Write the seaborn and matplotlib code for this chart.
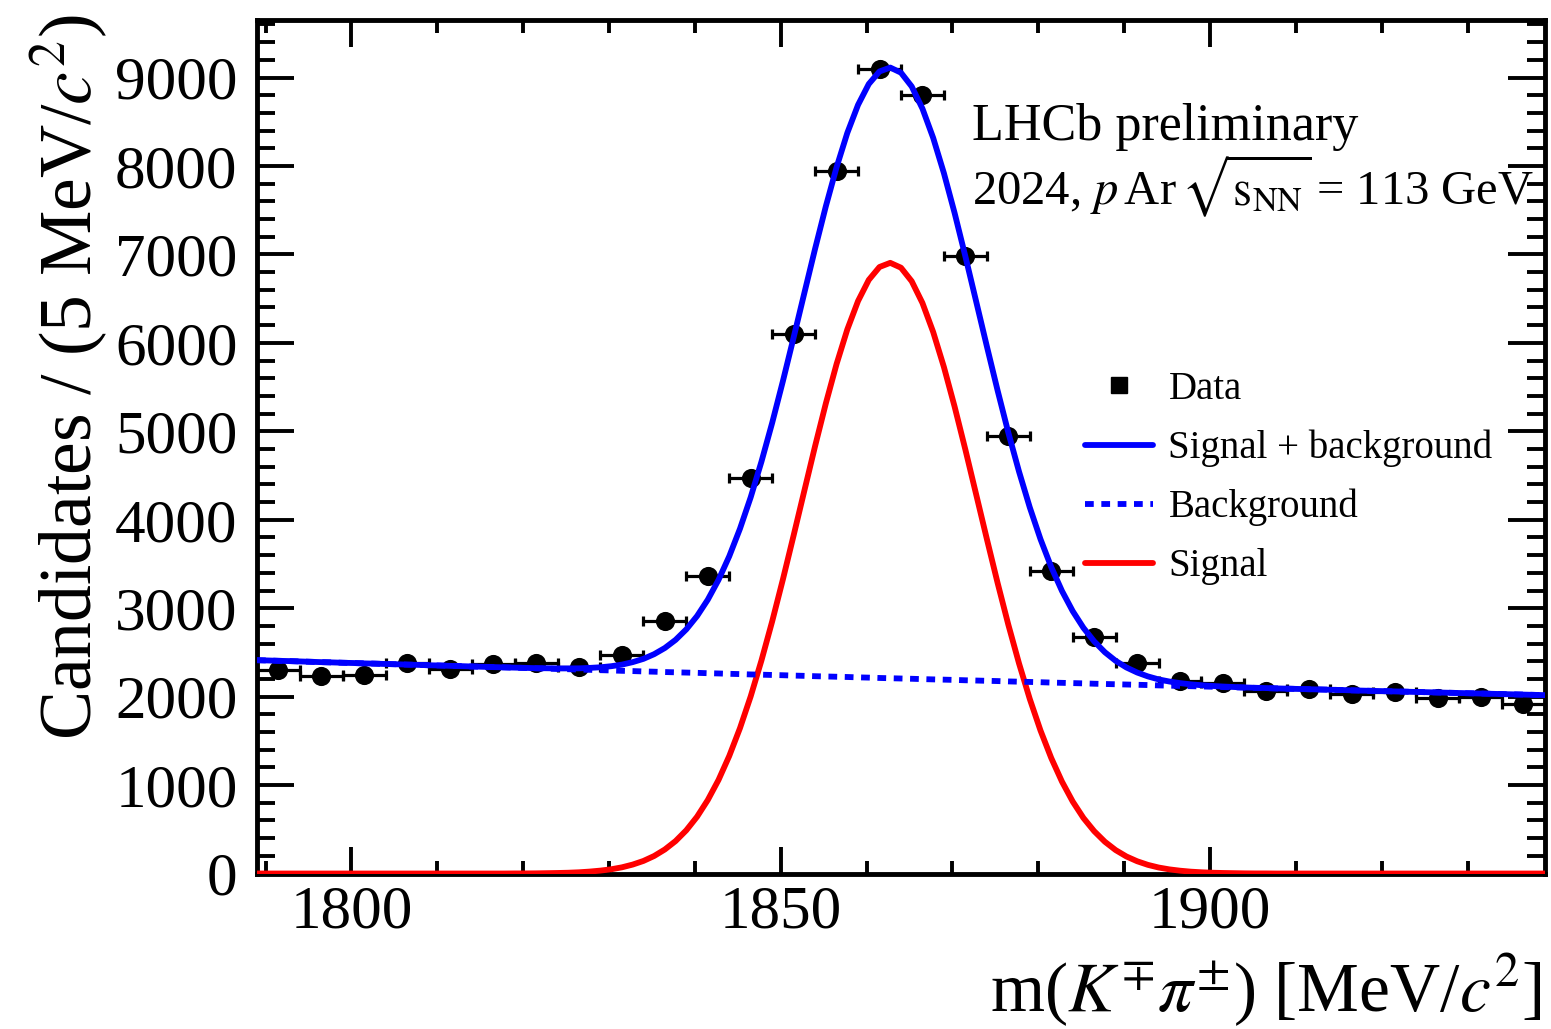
import numpy as np
import matplotlib
matplotlib.use('Agg')
import matplotlib.pyplot as plt
from matplotlib.lines import Line2D
from matplotlib.ticker import MultipleLocator
import seaborn as sns

# --- Data ---
# 5 MeV bins, centres in MeV/c^2
bin_centers = [1791.5, 1796.5, 1801.5, 1806.5, 1811.5, 1816.5, 1821.5, 1826.5, 1831.5, 1836.5,
               1841.5, 1846.5, 1851.5, 1856.5, 1861.5, 1866.5, 1871.5, 1876.5, 1881.5, 1886.5,
               1891.5, 1896.5, 1901.5, 1906.5, 1911.5, 1916.5, 1921.5, 1926.5, 1931.5, 1936.5]
counts = [2300, 2232, 2243, 2379, 2311, 2367, 2379, 2333, 2469, 2850,
          3362, 4475, 6099, 7949, 9100, 8800, 6985, 4945, 3425, 2672,
          2380, 2175, 2156, 2066, 2090, 2025, 2051, 1980, 1991, 1915]

# fit curves sampled every 1.25 MeV from 1789 to 1939
curve_x = np.arange(1789.0, 1939.01, 1.25)
background = [2412, 2409, 2405, 2402, 2398, 2394, 2390, 2387, 2383, 2380,
              2376, 2373, 2369, 2366, 2362, 2359, 2355, 2352, 2348, 2345,
              2341, 2338, 2334, 2331, 2327, 2324, 2320, 2317, 2313, 2310,
              2306, 2303, 2299, 2296, 2292, 2289, 2285, 2282, 2278, 2275,
              2272, 2269, 2265, 2262, 2258, 2255, 2251, 2248, 2245, 2242,
              2238, 2235, 2231, 2228, 2225, 2222, 2218, 2215, 2211, 2208,
              2205, 2202, 2198, 2195, 2192, 2189, 2185, 2182, 2179, 2176,
              2172, 2169, 2166, 2163, 2159, 2156, 2153, 2150, 2146, 2143,
              2140, 2137, 2134, 2131, 2127, 2124, 2121, 2118, 2115, 2112,
              2108, 2105, 2102, 2099, 2096, 2093, 2090, 2087, 2084, 2081,
              2078, 2075, 2071, 2068, 2065, 2062, 2059, 2056, 2053, 2050,
              2047, 2044, 2041, 2038, 2035, 2032, 2029, 2026, 2023, 2020,
              2017]
signal_peak = [0, 0, 1, 1, 2, 4, 6, 9, 14, 22,
               33, 48, 70, 101, 142, 198, 272, 367, 489, 642,
               831, 1058, 1329, 1644, 2004, 2409, 2851, 3326, 3824, 4330,
               4834, 5316, 5761, 6152, 6473, 6712, 6858, 6905, 6850, 6697,
               6451, 6123, 5727, 5278, 4793, 4289, 3783, 3287, 2814, 2375,
               1974, 1617, 1306, 1039, 814, 628, 479, 359, 265, 193,
               139, 98, 68, 47, 32, 21, 14, 9, 6, 4,
               2, 1, 1, 0, 0]
signal = [0] * 22 + signal_peak + [0] * 24
total = np.array(signal) + np.array(background)

BIN_HALF = 2.5
LW = 4.2
DOTTED = (0, (1.5, 1.3))

# --- Styling ---
sns.set_theme(style="ticks")
plt.rcParams['font.family'] = ['Liberation Serif', 'DejaVu Serif']
plt.rcParams['mathtext.fontset'] = 'stix'
plt.rcParams['axes.unicode_minus'] = False
for key in ['text.color', 'axes.labelcolor', 'xtick.color', 'ytick.color', 'axes.edgecolor']:
    plt.rcParams[key] = 'black'

fig = plt.figure(figsize=(15.51, 10.29), dpi=100)
ax = fig.add_axes([0.1657, 0.1511, 0.8304, 0.8294])

# data points
ax.errorbar(bin_centers, counts, xerr=BIN_HALF, fmt='none', ecolor='black',
            elinewidth=2.3, capsize=3.6, capthick=2.3, zorder=3)
sns.scatterplot(x=bin_centers, y=counts, color='black', s=190, linewidth=0,
                marker='o', ax=ax, zorder=4)

# fit components
sns.lineplot(x=curve_x, y=signal, color='#ff0000', linewidth=LW, ax=ax, zorder=5)
sns.lineplot(x=curve_x, y=background, color='#0000ff', linewidth=LW,
             linestyle=DOTTED, ax=ax, zorder=5)
sns.lineplot(x=curve_x, y=total, color='#0000ff', linewidth=LW, ax=ax, zorder=6)

ax.set_xlim(1789, 1939)
ax.set_ylim(0, 9650)

ax.xaxis.set_major_locator(MultipleLocator(50))
ax.xaxis.set_minor_locator(MultipleLocator(10))
ax.yaxis.set_major_locator(MultipleLocator(1000))
ax.yaxis.set_minor_locator(MultipleLocator(200))
ax.tick_params(which='both', direction='in', top=True, right=True, width=2.8, color='black')
ax.tick_params(axis='y', which='major', length=26.6, pad=14, labelsize=44)
ax.tick_params(axis='y', which='minor', length=13)
ax.tick_params(axis='x', which='major', length=19.4, pad=8, labelsize=44)
ax.tick_params(axis='x', which='minor', length=9.4)
for sp in ax.spines.values():
    sp.set_linewidth(3.5)
    sp.set_color('black')
ax.set_xlabel('')
ax.set_ylabel('')

fig.text(70 / 1551, 1 - 14 / 1029, r'Candidates / (5 MeV/$c^2$)', rotation=90,
         ha='center', va='top', fontsize=53)
fig.text(1542 / 1551, 1 - 990 / 1029, r'm($K^{\mp}\pi^{\pm}$) [MeV/$c^2$]',
         ha='right', va='center', fontsize=50)

ax.text(0.555, 0.859, 'LHCb preliminary', transform=ax.transAxes, fontsize=37.5,
        va='baseline', ha='left')
ax.text(0.555, 0.783, r'2024, $p\,$Ar $\!\sqrt{\mathrm{s}_{\mathrm{NN}}}\!$ = 113 GeV',
        transform=ax.transAxes, fontsize=35, va='baseline', ha='left')

handles = [
    Line2D([], [], linestyle='none', marker='s', markersize=12, color='black'),
    Line2D([], [], color='#0000ff', linewidth=LW),
    Line2D([], [], color='#0000ff', linewidth=LW, linestyle=DOTTED),
    Line2D([], [], color='#ff0000', linewidth=LW),
]
labels = ['Data', 'Signal + background', 'Background', 'Signal']
ax.legend(handles, labels, loc='upper left', bbox_to_anchor=(0.643, 0.589),
          frameon=False, fontsize=28, handlelength=1.75, handletextpad=0.39,
          labelspacing=0.56, borderpad=0, borderaxespad=0)

fig.savefig('out.png', dpi=100)
plt.close(fig)
